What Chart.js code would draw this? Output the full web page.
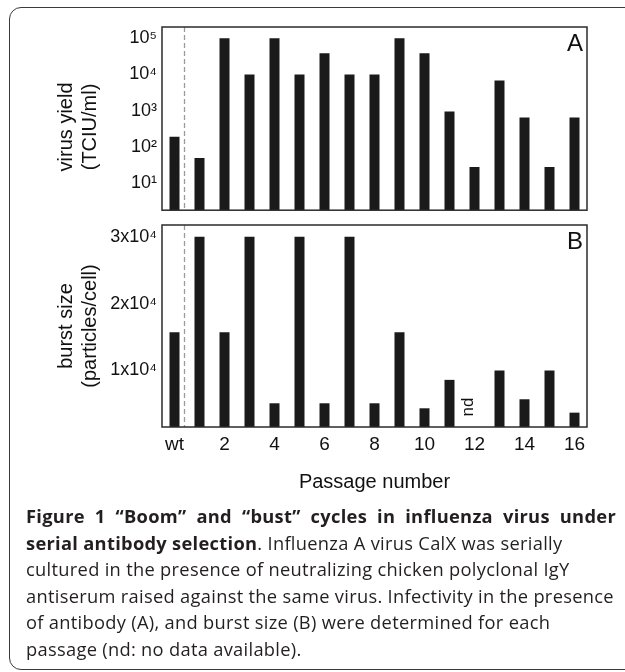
<!DOCTYPE html>
<html>
<head>
<meta charset="utf-8">
<script src="https://cdn.jsdelivr.net/npm/chart.js@4.4.1/dist/chart.umd.min.js"></script>
<style>
  html, body { margin: 0; padding: 0; background: #fff; }
  body { width: 625px; height: 672px; position: relative; overflow: hidden; }
  #frame {
    position: absolute; left: 9px; top: 7px; width: 640px; height: 663px;
    border: 1.5px solid #3a3a3a; border-radius: 12px; box-sizing: border-box;
  }
  #yieldChart { position: absolute; left: 0; top: 0; }
  #burstChart { position: absolute; left: 0; top: 200px; }
  #caption {
    position: absolute; left: 26px; top: 503px; width: 590px;
    font-family: "Open Sans", sans-serif; font-size: 18.3px; line-height: 26.6px;
    letter-spacing: 0.3px; color: #231f20;
  }
  #caption .first { text-align: justify; text-align-last: justify; white-space: nowrap; }
  #caption .rest { white-space: nowrap; }
</style>
</head>
<body>
<div id="frame"></div>
<canvas id="yieldChart" width="625" height="226"></canvas>
<canvas id="burstChart" width="625" height="300"></canvas>
<div id="caption">
  <div class="first"><b>Figure 1 “Boom” and “bust” cycles in influenza virus under</b></div>
  <div class="rest"><b>serial antibody selection</b>. Influenza A virus CalX was serially<br>
  cultured in the presence of neutralizing chicken polyclonal IgY<br>
  antiserum raised against the same virus. Infectivity in the presence<br>
  of antibody (A), and burst size (B) were determined for each<br>
  passage (nd: no data available).</div>
</div>
<script>
// passages: wild type, then 1..16
const passageLabels = ['wt', '1', '2', '3', '4', '5', '6', '7', '8', '9', '10', '11', '12', '13', '14', '15', '16'];

// panel A, TCIU/ml (log axis)
const virusYield = [190, 49, 100000, 10000, 100000, 10000, 39000, 10000, 10000, 100000, 39000, 950, 28, 6800, 650, 28, 650];
const yieldTicks = [10, 100, 1000, 10000, 100000];
const yieldTickLabels = ['10\u00B9', '10\u00B2', '10\u00B3', '10\u2074', '10\u2075'];

// panel B, particles/cell (passage 12: nd)
const burstSize = [15700, 30000, 15700, 30000, 5100, 30000, 5100, 30000, 5100, 15700, 4350, 8600, null, 10000, 5700, 10000, 3700];
const burstTicks = [10000, 20000, 30000];
const burstTickLabels = ['1x10\u2074', '2x10\u2074', '3x10\u2074'];

const dividerAt = 0.4; // dashed line between wt and passage 1

const FONT = '"Liberation Sans", Arial, Helvetica, sans-serif';
Chart.defaults.font.family = FONT;
Chart.defaults.color = '#111';

const panelPlugin = {
  id: 'panel',
  afterDatasetsDraw(chart, args, opts) {
    const { ctx, chartArea: a, scales: { x } } = chart;
    const x0 = x.getPixelForValue(0), x1 = x.getPixelForValue(1);
    const dx = x0 + dividerAt * (x1 - x0);
    ctx.save();
    ctx.strokeStyle = '#9a9a9a';
    ctx.lineWidth = 1.3;
    ctx.setLineDash([5, 3]);
    ctx.beginPath();
    ctx.moveTo(dx, a.top);
    ctx.lineTo(dx, a.bottom);
    ctx.stroke();
    ctx.setLineDash([]);
    ctx.strokeStyle = '#2b2b2b';
    ctx.lineWidth = 1.5;
    ctx.strokeRect(a.left, a.top, a.right - a.left, a.bottom - a.top);
    ctx.fillStyle = '#111';
    ctx.font = '24px ' + FONT;
    ctx.textAlign = 'right';
    ctx.textBaseline = 'alphabetic';
    ctx.fillText(opts.letter, a.right - 4, a.top + 23.5);
    ctx.restore();
  }
};

const ndPlugin = {
  id: 'nd',
  afterDatasetsDraw(chart) {
    const { ctx, chartArea: a, scales: { x } } = chart;
    burstSize.forEach((v, i) => {
      if (v !== null) return;
      ctx.save();
      ctx.translate(x.getPixelForValue(i) - 6, a.bottom - 20);
      ctx.rotate(-Math.PI / 2);
      ctx.font = '17px ' + FONT;
      ctx.fillStyle = '#111';
      ctx.textAlign = 'center';
      ctx.textBaseline = 'middle';
      ctx.fillText('nd', 0, 0);
      ctx.restore();
    });
  }
};

function yAxis(extra) {
  return Object.assign({
    grid: { display: false, drawTicks: false },
    border: { display: false },
    afterFit: s => { s.width = 162; }
  }, extra);
}

new Chart(document.getElementById('yieldChart'), {
  type: 'bar',
  data: {
    labels: passageLabels,
    datasets: [{
      data: virusYield,
      backgroundColor: '#1a1a1a',
      barPercentage: 0.4,
      categoryPercentage: 1.0
    }]
  },
  options: {
    responsive: false,
    animation: false,
    devicePixelRatio: 1,
    layout: { padding: { top: 27, right: 38, left: 0, bottom: 0 } },
    plugins: { legend: { display: false }, tooltip: { enabled: false }, panel: { letter: 'A' } },
    scales: {
      x: { display: false },
      y: yAxis({
        type: 'logarithmic',
        min: 1.78,
        max: 205600,
        afterBuildTicks: s => { s.ticks = yieldTicks.map(v => ({ value: v })); },
        ticks: { padding: 5, font: { size: 18 }, color: '#111', callback: (v, i) => yieldTickLabels[i] },
        title: {
          // trailing spaces nudge the rotated title a little lower, as in the original
          display: true, text: ['virus yield   ', '(TCIU/ml)   '], color: '#111',
          font: { size: 20, lineHeight: 1.17 }, padding: { top: 55, bottom: 0 }
        }
      })
    }
  },
  plugins: [panelPlugin]
});

new Chart(document.getElementById('burstChart'), {
  type: 'bar',
  data: {
    labels: passageLabels,
    datasets: [{
      data: burstSize,
      backgroundColor: '#1a1a1a',
      barPercentage: 0.4,
      categoryPercentage: 1.0
    }]
  },
  options: {
    responsive: false,
    animation: false,
    devicePixelRatio: 1,
    layout: { padding: { top: 25, right: 38, left: 0, bottom: 0 } },
    plugins: { legend: { display: false }, tooltip: { enabled: false }, panel: { letter: 'B' } },
    scales: {
      x: {
        grid: { display: false, drawTicks: false },
        border: { display: false },
        ticks: {
          autoSkip: false, maxRotation: 0, padding: 6, font: { size: 19 }, color: '#111',
          callback: (v, i) => (i % 2 === 0 ? passageLabels[i] : '')
        },
        title: { display: true, text: 'Passage number', color: '#111', font: { size: 20 }, padding: { top: 0, bottom: 6 } },
        afterFit: s => { s.height = 73; }
      },
      y: yAxis({
        min: 1555,
        max: 31750,
        afterBuildTicks: s => { s.ticks = burstTicks.map(v => ({ value: v })); },
        ticks: { padding: 5, font: { size: 18 }, color: '#111', callback: (v, i) => burstTickLabels[i] },
        title: {
          display: true, text: ['burst size', '(particles/cell)'], color: '#111',
          font: { size: 20, lineHeight: 1.17 }, padding: { top: 55, bottom: 0 }
        }
      })
    }
  },
  plugins: [panelPlugin, ndPlugin]
});
</script>
</body>
</html>
